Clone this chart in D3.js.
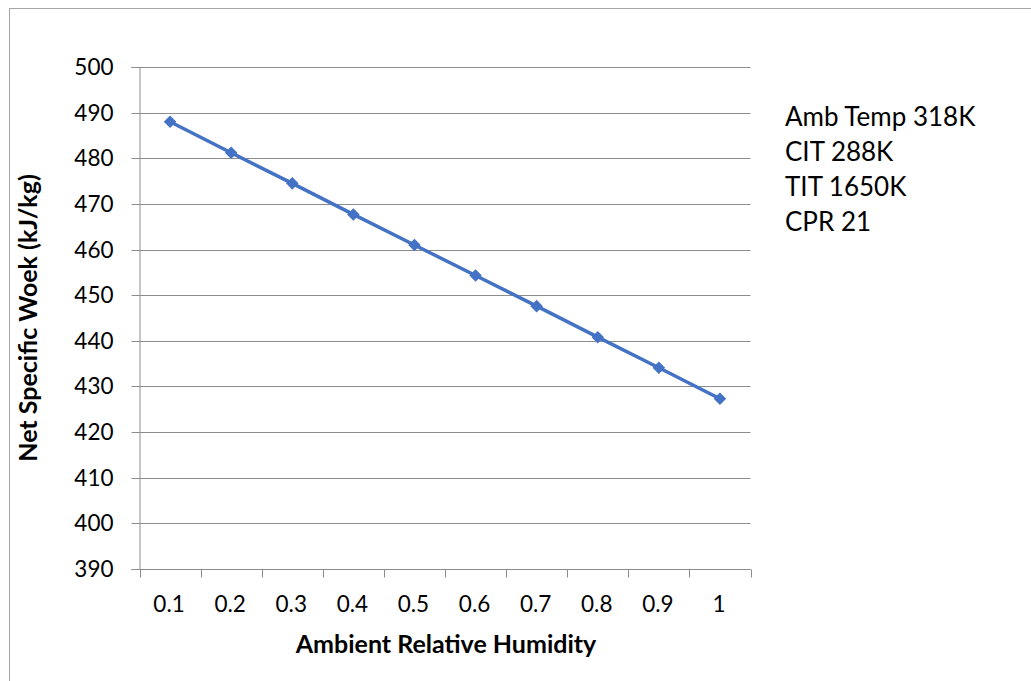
<!DOCTYPE html>
<html>
<head>
<meta charset="utf-8">
<script src="https://cdn.jsdelivr.net/npm/d3@7"></script>
<style>
  html, body { margin: 0; padding: 0; background: #fff; }
  svg text { font-family: Lato, "Open Sans", "Liberation Sans", sans-serif; fill: #000; }
</style>
</head>
<body>
<svg id="chart" width="1031" height="681"></svg>
<script>
// Relative humidity categories and net specific work (kJ/kg)
const humidity = ["0.1", "0.2", "0.3", "0.4", "0.5", "0.6", "0.7", "0.8", "0.9", "1"];
const netWork = [488.0, 481.2, 474.5, 467.7, 461.0, 454.3, 447.6, 440.8, 434.1, 427.3];
const yTicks = [390, 400, 410, 420, 430, 440, 450, 460, 470, 480, 490, 500];
const notes = ["Amb Temp 318K", "CIT 288K", "TIT 1650K", "CPR 21"];

const svg = d3.select("#chart");
const plot = { left: 139.5, right: 750.5, top: 67, bottom: 569 };
const gridColor = "#8c8c8c";
const lineColor = "#4472C4";

// Outer chart frame
svg.append("rect")
  .attr("x", 9.5).attr("y", 8.5)
  .attr("width", 1040).attr("height", 700)
  .attr("fill", "none").attr("stroke", "#a6a6a6").attr("stroke-width", 1);

const x = d3.scaleBand().domain(humidity).range([plot.left, plot.right]);
const y = d3.scaleLinear().domain([390, 500]).range([plot.bottom, plot.top]);

// Horizontal gridlines and y tick marks
const yAxis = d3.axisLeft(y).tickValues(yTicks).tickSize(8).tickPadding(18).tickFormat(d3.format("d"));
const gy = svg.append("g").attr("transform", `translate(${plot.left},0)`).call(yAxis);
gy.select(".domain").attr("stroke", gridColor);
gy.selectAll(".tick line").attr("stroke", gridColor);
gy.selectAll(".tick text").style("font-size", "22.5px");
gy.selectAll(".tick").append("line")
  .attr("x1", 0).attr("x2", plot.right - plot.left)
  .attr("stroke", gridColor).attr("stroke-width", 1);
gy.selectAll(".tick").attr("transform", d => `translate(0,${Math.round(y(d)) + 0.5})`);

// Category axis with tick marks between categories
const gx = svg.append("g").attr("transform", `translate(0,${plot.bottom + 0.5})`);
gx.append("line").attr("x1", plot.left).attr("x2", plot.right).attr("stroke", gridColor);
const bounds = humidity.map(d => x(d)).concat([plot.right]);
gx.selectAll("line.tk").data(bounds).join("line").attr("class", "tk")
  .attr("x1", d => Math.round(d) + 0.5).attr("x2", d => Math.round(d) + 0.5)
  .attr("y1", 0).attr("y2", 8).attr("stroke", gridColor);
gx.selectAll("text").data(humidity).join("text")
  .attr("x", d => x(d) + x.bandwidth() / 2 - 1)
  .attr("y", 42)
  .attr("text-anchor", "middle")
  .style("font-size", "22.5px")
  .text(d => d);

// Series line with diamond markers
const line = d3.line()
  .x((d, i) => x(humidity[i]) + x.bandwidth() / 2)
  .y(d => y(d));
svg.append("path").datum(netWork)
  .attr("d", line)
  .attr("fill", "none").attr("stroke", lineColor).attr("stroke-width", 3.5);
svg.append("g").selectAll("path").data(netWork).join("path")
  .attr("d", d3.symbol().type(d3.symbolDiamond2).size(100))
  .attr("transform", (d, i) => `translate(${x(humidity[i]) + x.bandwidth() / 2},${y(d)})`)
  .attr("fill", lineColor);

// Axis titles
svg.append("text")
  .attr("x", (plot.left + plot.right) / 2 + 1).attr("y", 653)
  .attr("text-anchor", "middle")
  .style("font-size", "25px").style("font-weight", "bold")
  .text("Ambient Relative Humidity");
svg.append("text")
  .attr("transform", `translate(37,${(plot.top + plot.bottom) / 2}) rotate(-90)`)
  .attr("text-anchor", "middle")
  .style("font-size", "25px").style("font-weight", "bold")
  .text("Net Specific Woek (kJ/kg)");

// Operating conditions note
svg.append("g").selectAll("text").data(notes).join("text")
  .attr("x", 785).attr("y", (d, i) => 126 + i * 35)
  .style("font-size", "26px")
  .text(d => d);
</script>
</body>
</html>
